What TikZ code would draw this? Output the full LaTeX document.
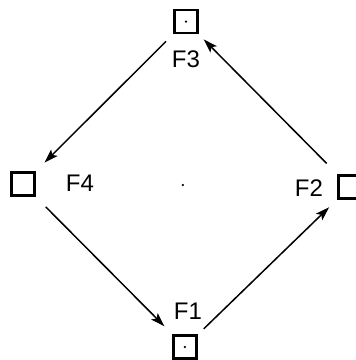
\documentclass[tikz,border=0pt]{standalone}
\usepackage{fontspec}
\setmainfont{Liberation Sans}
\usetikzlibrary{arrows.meta}
\begin{document}
\begin{tikzpicture}[x=1pt,y=1pt,
  fbox/.style={draw,line width=2.4pt,minimum size=23pt,inner sep=0pt,outer sep=0pt},
  flabel/.style={font=\fontsize{24}{24}\selectfont,inner sep=0pt},
  conn/.style={line width=1.5pt,-{Stealth[length=14pt,width=9pt,inset=3pt]}},
  dot/.style={fill,circle,inner sep=0pt,minimum size=2.5pt}]
\useasboundingbox (0,0) rectangle (356,360);
\node[fbox] (b3) at (186,338.5) {};
\node[fbox] (b4) at (23,176) {};
\node[fbox] (b1) at (185,13) {};
\node[fbox] (b2) at (350,173) {};
\node[dot] (d3) at (b3.center) {};
\node[dot] (d1) at (b1.center) {};
\node[dot] (d0) at (183,175) {};
\node[flabel] (l3) at (186,301) {F3};
\node[flabel] (l4) at (80,177) {F4};
\node[flabel] (l2) at (309,172) {F2};
\node[flabel] (l1) at (188,49) {F1};
\draw[conn,shorten <=12pt,shorten >=14pt] (b3) -- (b4);
\draw[conn,shorten <=16pt,shorten >=13pt] (b4) -- (b1);
\draw[conn,shorten <=10pt,shorten >=13pt] (b1) -- (b2);
\draw[conn,shorten <=17pt,shorten >=9pt] (b2) -- (b3);
\end{tikzpicture}
\end{document}
